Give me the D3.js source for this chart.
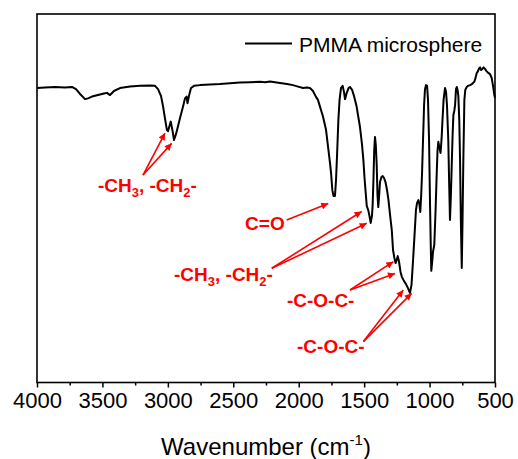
<!DOCTYPE html>
<html>
<head>
<meta charset="utf-8">
<script src="https://cdn.jsdelivr.net/npm/d3@7"></script>
<style>
  html, body { margin: 0; padding: 0; background: #fff; }
  svg { display: block; font-family: "Liberation Sans", Arial, sans-serif; }
</style>
</head>
<body>
<div id="chart"></div>
<script>
// ---- data (wavenumber cm^-1, transmittance a.u.) ----
const wavenumber = [
  4000,3939,3862,3786,3733,3702,3671,3633,3610,3580,3534,3488,3465,3442,3412,3366,3289,3213,3136,3098,
  3075,3052,3037,3022,3007,2999,2978,2965,2953,2938,2922,2907,2884,2869,2857,2850,2838,2823,2800,2754,
  2678,2602,2525,2449,2372,2296,2258,2219,2181,2143,2089,2044,2005,1967,1937,1914,1891,1868,1853,1837,
  1814,1791,1776,1761,1753,1743,1734,1723,1715,1707,1697,1688,1677,1664,1654,1646,1633,1619,1608,1592,
  1577,1557,1547,1532,1516,1506,1497,1488,1480,1468,1459,1450,1440,1435,1429,1423,1417,1411,1404,1398,
  1392,1385,1379,1367,1358,1348,1337,1325,1314,1302,1289,1279,1269,1260,1252,1243,1233,1222,1211,1195,
  1180,1165,1150,1138,1127,1115,1104,1096,1086,1077,1071,1064,1058,1050,1042,1035,1027,1019,1012,1004,
  997,991,987,980,974,964,954,945,939,933,924,916,908,902,893,882,874,867,857,850,
  844,837,830,824,818,811,805,798,792,786,780,773,767,761,754,748,742,734,727,716,
  706,691,676,658,649,640,630,621,614,606,596,587,576,565,551,538,525,515,505,500
];
const transmittance = [
  79.9,80.05,80.2,80.05,80.2,79.6,78.3,76.9,77.1,77.6,78.0,78.4,78.6,78.0,79.1,79.9,80.3,80.5,80.6,80.5,
  79.6,77.7,75.0,71.7,68.5,68.2,70.8,68.5,65.8,67.4,69.6,71.8,74.9,77.1,77.6,75.8,77.9,79.9,80.5,80.7,
  80.9,81.0,81.2,81.4,81.5,81.6,81.5,81.7,81.5,81.3,81.0,80.7,80.3,79.9,80.05,79.9,79.1,77.5,76.7,74.8,
  72.1,68.5,64.0,59.6,56.9,52.2,50.6,50.6,54.9,61.7,71.2,76.6,79.9,80.5,78.8,76.9,78.6,79.9,80.2,79.4,
  77.7,74.8,72.6,69.4,64.5,60.4,55.5,51.4,47.9,46.7,45.1,43.3,45.3,48.2,54.9,63.0,66.6,64.5,59.0,50.9,
  47.6,50.9,54.4,55.8,56.0,55.5,54.4,52.2,49.5,45.5,41.4,35.9,33.8,32.4,33.2,34.3,32.7,30.0,28.6,27.5,
  26.7,25.6,24.3,26.5,32.7,40.0,46.8,48.7,49.5,48.2,46.3,50.9,56.3,65.8,75.3,79.6,80.7,80.5,76.7,65.8,
  49.5,37.3,30.3,32.7,35.4,37.3,46.8,57.1,63.1,65.3,63.6,62.3,66.3,70.7,76.7,79.9,78.8,75.3,65.8,53.6,
  44.1,50.9,59.8,67.2,72.6,73.7,75.3,79.6,80.2,79.4,77.7,71.2,60.4,44.1,31.1,44.1,60.4,76.7,79.4,80.2,
  80.5,80.7,81.0,81.6,82.6,83.9,84.5,85.3,85.5,84.8,85.1,85.5,85.1,84.5,84.0,83.7,82.6,80.5,78.0,77.2
];
const xTicks = [4000,3500,3000,2500,2000,1500,1000,500];
const xMinorTicks = [3750,3250,2750,2250,1750,1250,750];
const seriesName = "PMMA microsphere";
const xLabel = "Wavenumber (cm";
const xLabelSup = "-1";

// annotations: label parts [text, isSub], text anchor (wavenumber, T), arrow origin, arrow tips
const annLabels = [
  [["-CH",0],["3",1],[", -CH",0],["2",1],["-",0]],
  [["C=O",0]],
  [["-CH",0],["3",1],[", -CH",0],["2",1],["-",0]],
  [["-C-O-C-",0]],
  [["-C-O-C-",0]]
];
const annTextPos = [[3534,51.8],[2410,41.4],[2953,27.5],[2090,20.6],[2013,8.0]];
const annFrom = [[3190,56.3],[2092,44.1],[2206,31.0],[1608,25.1],[1506,11.1]];
const annTips = [
  [[3022,67.7],[2971,64.9]],
  [[1774,48.6]],
  [[1519,46.4],[1480,43.2]],
  [[1277,32.8],[1264,29.6]],
  [[1201,25.1],[1137,24.2]]
];

// ---- layout ----
const W = 518, H = 459;
const plot = {left: 37, right: 495, top: 14, bottom: 382.5};
const red = "#ff0000";

const svg = d3.select("#chart").append("svg").attr("width", W).attr("height", H);

const x = d3.scaleLinear().domain([4000, 500]).range([plot.left, plot.right]);
const y = d3.scaleLinear().domain([0, 100]).range([plot.bottom, plot.top]);

svg.append("defs").append("marker")
  .attr("id", "ah").attr("viewBox", "0 0 10 10").attr("refX", 10).attr("refY", 5)
  .attr("markerWidth", 9).attr("markerHeight", 7).attr("markerUnits", "userSpaceOnUse")
  .attr("orient", "auto")
  .append("path").attr("d", "M0,0 L10,5 L0,10 z").attr("fill", red);

// axes
const ax = svg.append("g").attr("transform", `translate(0,${plot.bottom})`)
  .call(d3.axisBottom(x).tickValues(xTicks).tickSize(5).tickPadding(5).tickFormat(d3.format("d")));
ax.select(".domain").remove();
ax.selectAll(".tick line").attr("stroke", "#000").attr("stroke-width", 1.5);
ax.selectAll(".tick text").attr("font-size", 22).attr("fill", "#000")
  .attr("font-family", "Liberation Sans, Arial, sans-serif");

const axm = svg.append("g").attr("transform", `translate(0,${plot.bottom})`)
  .call(d3.axisBottom(x).tickValues(xMinorTicks).tickSize(3).tickFormat(""));
axm.select(".domain").remove();
axm.selectAll(".tick line").attr("stroke", "#000").attr("stroke-width", 1.5);

// frame
svg.append("rect").attr("x", plot.left).attr("y", plot.top)
  .attr("width", plot.right - plot.left).attr("height", plot.bottom - plot.top)
  .attr("fill", "none").attr("stroke", "#000").attr("stroke-width", 1.6);

// x label
const xl = svg.append("text").attr("x", (plot.left + plot.right) / 2).attr("y", 455)
  .attr("text-anchor", "middle").attr("font-size", 24).attr("fill", "#000");
xl.append("tspan").text(xLabel);
xl.append("tspan").text(xLabelSup).attr("font-size", 15).attr("dy", -10);
xl.append("tspan").text(")").attr("dy", 10);

// spectrum
const pts = wavenumber.map((w, i) => [w, transmittance[i]]);
svg.append("path").datum(pts)
  .attr("fill", "none").attr("stroke", "#000").attr("stroke-width", 2).attr("stroke-linejoin", "round")
  .attr("d", d3.line().x(d => x(d[0])).y(d => y(d[1])));

// legend
svg.append("line").attr("x1", 245).attr("x2", 292).attr("y1", 43.5).attr("y2", 43.5)
  .attr("stroke", "#000").attr("stroke-width", 2);
svg.append("text").attr("x", 299).attr("y", 51.5).attr("font-size", 21).attr("fill", "#000").text(seriesName);

// annotations
annLabels.forEach((parts, i) => {
  const t = svg.append("text").attr("x", x(annTextPos[i][0])).attr("y", y(annTextPos[i][1]))
    .attr("font-size", 19).attr("font-weight", "bold").attr("fill", red);
  let sub = false;
  parts.forEach(([s, isSub]) => {
    const ts = t.append("tspan").text(s);
    if (isSub && !sub) { ts.attr("font-size", 13).attr("dy", 5); sub = true; }
    else if (!isSub && sub) { ts.attr("dy", -5); sub = false; }
  });
  annTips[i].forEach(tip => {
    svg.append("line")
      .attr("x1", x(annFrom[i][0])).attr("y1", y(annFrom[i][1]))
      .attr("x2", x(tip[0])).attr("y2", y(tip[1]))
      .attr("stroke", red).attr("stroke-width", 1.6).attr("marker-end", "url(#ah)");
  });
});
</script>
</body>
</html>
